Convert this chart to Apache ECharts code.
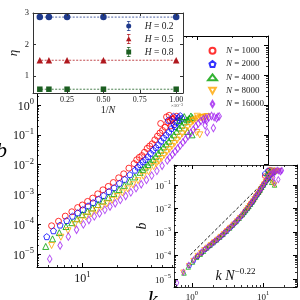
<!DOCTYPE html>
<html><head><meta charset="utf-8">
<script src="https://cdn.jsdelivr.net/npm/echarts@6/dist/echarts.min.js"></script>
<style>html,body{margin:0;padding:0;background:#fff}#c{width:300px;height:300px}</style>
</head><body><div id="c"></div><script>
// ---- data ----
const sizesN = [1000, 2000, 4000, 8000, 16000];
const scaleExp = 0.22;            // collapse exponent in the inset label  k N^-0.22
const k1000 = [5.4, 6.2, 7.1, 8.1, 9.1, 10, 11.1, 12.3, 13.6, 15.1, 16.8, 18.6, 20.7, 22.9, 25.4, 28.2, 31.3, 34.7, 38.5, 42.7, 47.3, 52.5, 58.2, 63.1, 48, 54, 57, 61, 66, 59,
  29.7, 33, 36.6, 40.5, 45, 49.8, 55.3, 60.5];
const b1000 = [8.8e-5, 1.25e-4, 1.86e-4, 2.6e-4, 3.6e-4, 4.4e-4, 5.8e-4, 7.5e-4, 1.04e-3, 1.42e-3, 1.85e-3, 2.5e-3, 3.6e-3, 4.9e-3, 7.6e-3, 1.08e-2, 1.75e-2, 2.6e-2, 4.2e-2, 6.8e-2, 0.115, 0.18, 0.3, 0.37, 0.24, 0.4, 0.45, 0.34, 0.42, 0.2,
  1.45e-2, 2.0e-2, 3.5e-2, 5.0e-2, 9.0e-2, 0.14, 0.26, 0.33];
const k2000 = [4.9, 5.6, 6.4, 7.3, 8.2, 9.1, 10.1, 11.2, 12.4, 13.8, 15.3, 17, 18.9, 21, 23.3, 25.9, 28.7, 31.9, 35.4, 39.3, 43.6, 48.4, 53.7, 59.6, 66.2, 73.5, 56, 62, 69, 71, 64,
  30.3, 33.6, 37.3, 41.4, 45.9, 51, 56.6, 62.8, 69.8];
const b2000 = [3.8e-5, 6.0e-5, 9.3e-5, 1.32e-4, 1.85e-4, 2.4e-4, 3.1e-4, 4.1e-4, 5.3e-4, 6.9e-4, 9.2e-4, 1.25e-3, 1.68e-3, 2.35e-3, 3.2e-3, 4.6e-3, 6.5e-3, 1.0e-2, 1.5e-2, 2.4e-2, 3.8e-2, 6.2e-2, 0.1, 0.165, 0.27, 0.36, 0.31, 0.42, 0.38, 0.44, 0.19,
  8.3e-3, 1.25e-2, 1.85e-2, 3.1e-2, 4.7e-2, 8.0e-2, 0.125, 0.22, 0.32];
const k4000 = [4.8, 5.5, 6.3, 7.2, 8.1, 9.0, 10, 11.1, 12.3, 13.7, 15.2, 16.9, 18.8, 20.9, 23.2, 25.8, 28.6, 31.8, 35.3, 39.2, 43.5, 48.3, 53.6, 59.5, 66.1, 73.4, 81.5, 90.5, 70, 77, 85, 88, 82, 90,
  33.5, 37.2, 41.3, 45.8, 50.9, 56.5, 62.7, 69.7, 77.3, 85.9];
const b4000 = [1.78e-5, 3.2e-5, 5.2e-5, 8.3e-5, 1.12e-4, 1.51e-4, 2.09e-4, 2.69e-4, 3.5e-4, 4.57e-4, 6.0e-4, 7.9e-4, 1.07e-3, 1.46e-3, 2.0e-3, 2.78e-3, 3.85e-3, 5.5e-3, 8.2e-3, 1.21e-2, 1.9e-2, 3.05e-2, 4.9e-2, 8.0e-2, 0.13, 0.21, 0.32, 0.38, 0.3, 0.41, 0.36, 0.43, 0.13, 0.1,
  6.9e-3, 1.0e-2, 1.5e-2, 2.4e-2, 3.9e-2, 6.1e-2, 0.1, 0.17, 0.27, 0.35];
const k8000 = [5.4, 6.5, 7.5, 8.6, 9.6, 10.7, 11.9, 13.2, 14.7, 16.3, 18.1, 20.1, 22.3, 24.8, 27.5, 30.5, 33.9, 37.6, 41.7, 46.3, 51.4, 57.1, 63.3, 70.3, 78.0, 86.6, 96.1, 106.7, 118, 92, 100, 110, 122, 99, 105,
  43.9, 48.8, 54.2, 60.1, 66.7, 74, 82.2, 91.2, 101, 112];
const b8000 = [1.91e-5, 3.63e-5, 6.0e-5, 9.8e-5, 1.29e-4, 1.74e-4, 2.19e-4, 2.85e-4, 3.72e-4, 4.79e-4, 6.3e-4, 8.4e-4, 1.12e-3, 1.53e-3, 2.09e-3, 2.88e-3, 4.05e-3, 5.75e-3, 8.55e-3, 1.29e-2, 2.04e-2, 3.24e-2, 5.16e-2, 8.4e-2, 0.138, 0.225, 0.324, 0.38, 0.4, 0.3, 0.42, 0.36, 0.41, 0.12, 0.1,
  1.05e-2, 1.6e-2, 2.6e-2, 4.1e-2, 6.6e-2, 0.108, 0.178, 0.28, 0.36, 0.39];
const k16000 = [5.2, 6.4, 7.55, 8.9, 10.2, 11.4, 12.7, 14.1, 15.7, 17.4, 19.3, 21.4, 23.8, 26.4, 29.3, 32.5, 36.1, 40.1, 44.5, 49.4, 54.8, 60.8, 67.5, 74.9, 83.1, 92.2, 102, 113, 126, 140, 155, 120, 133, 147, 151, 117, 122, 138,
  57.7, 64.1, 71.1, 78.9, 87.5, 97, 107.4, 119];
const b16000 = [6.8e-6, 1.91e-5, 3.8e-5, 6.46e-5, 9.8e-5, 1.38e-4, 1.82e-4, 2.29e-4, 3.02e-4, 3.89e-4, 5.0e-4, 6.5e-4, 8.8e-4, 1.17e-3, 1.61e-3, 2.19e-3, 3.06e-3, 4.27e-3, 6.17e-3, 9.1e-3, 1.38e-2, 2.19e-2, 3.47e-2, 5.56e-2, 9.1e-2, 0.149, 0.238, 0.333, 0.389, 0.398, 0.417, 0.3, 0.43, 0.36, 0.4, 0.21, 0.123, 0.17,
  1.75e-2, 2.75e-2, 4.4e-2, 7.1e-2, 0.115, 0.19, 0.29, 0.36];
// top inset: eta vs 1/N (x in units of 1e-3)
const invNScale = 1e3;
const eta02 = [2.87, 2.87, 2.87, 2.87, 2.87];
const eta05 = [1.50, 1.50, 1.50, 1.50, 1.50];
const eta08 = [0.58, 0.58, 0.58, 0.58, 0.58];
const etaLabels = ['H = 0.2', 'H = 0.5', 'H = 0.8'];
const invNTicks = [0.25, 0.5, 0.75, 1.0];
const etaTicks = [1, 2, 3];
// dashed guide line (slope 3) in the collapse inset
const guideX = [0.95, 10];
const guideY = [1.05e-4, 0.123];

const kArr = [k1000, k2000, k4000, k8000, k16000];
const bArr = [b1000, b2000, b4000, b8000, b16000];
const nColors = ['#ff0000', '#0000ff', '#00a000', '#ffa500', '#a020f0'];
const nSymbols = ['circle', 'path://M5,0 L10,3.8 L8.1,10 L1.9,10 L0,3.8 Z', 'triangle', 'path://M0,0 L10,0 L5,9 Z', 'path://M3,0 L6,5 L3,10 L0,5 Z'];
const nSizes = [6, 6, 6, 6, [4.5, 7.5]];
const nSizesIn = [4.5, 4.5, 4.5, 4.5, [3.5, 6]];
const hColors = ['#1f3a8c', '#b0181e', '#1b5e20'];
const hSymbols = ['circle', 'triangle', 'rect'];

const SERIF = 'Liberation Serif';
function logFmt(allowed) {
  return function (v) {
    const l = Math.log10(v), e = Math.round(l);
    if (Math.abs(l - e) > 1e-6 || allowed.indexOf(e) < 0) return '';
    return '{b|10}{s|' + (e < 0 ? '\u2212' + (-e) : e) + '}';
  };
}
function richLbl(big, small) {
  return {
    b: {fontSize: big, fontFamily: SERIF, color: '#111', lineHeight: big + 3, verticalAlign: 'bottom'},
    s: {fontSize: small, fontFamily: SERIF, color: '#111', lineHeight: small, verticalAlign: 'top'}
  };
}
const lineBlack = {show: true, lineStyle: {color: '#000', width: 1}};
const lineDark = {show: true, lineStyle: {color: '#333', width: 1}};

function logAxis(grid, pos, min, max, labels, z, big, small, extra) {
  return Object.assign({
    type: 'log', logBase: 10, gridIndex: grid, position: pos, min: min, max: max, z: z,
    axisLine: lineBlack,
    axisTick: {show: true, inside: true, length: 4, lineStyle: {color: '#000', width: 1}},
    minorTick: {show: true, splitNumber: 9, length: 2, lineStyle: {color: '#000', width: 0.8}},
    splitLine: {show: false}, minorSplitLine: {show: false},
    axisLabel: labels ? {show: true, formatter: logFmt(labels), margin: 3, rich: richLbl(big, small)} : {show: false}
  }, extra || {});
}

const option = {
  animation: false,
  backgroundColor: '#fff',
  grid: [
    {left: 37, top: 36, width: 231, height: 231, z: 0, containLabel: false, outerBoundsMode: 'none'},
    {left: 33, top: 13, width: 150, height: 80, z: 10, show: true, backgroundColor: '#fff', borderWidth: 0, containLabel: false, outerBoundsMode: 'none'},
    {left: 174, top: 165, width: 123, height: 122, z: 10, show: true, backgroundColor: '#fff', borderWidth: 0, containLabel: false, outerBoundsMode: 'none'}
  ],
  xAxis: [
    logAxis(0, 'bottom', 4.03, 412, [1], 1, 12, 8.5, {
      name: 'k', nameLocation: 'middle', nameGap: 5,
      nameTextStyle: {fontFamily: SERIF, fontStyle: 'italic', fontSize: 23, color: '#000'}}),
    logAxis(0, 'top', 4.03, 412, null, 1, 12, 8.5),
    {type: 'value', gridIndex: 1, position: 'bottom', min: 0.015625, max: 1.046875, z: 12,
      axisLine: lineDark,
      axisTick: {show: true, inside: true, length: 3, customValues: invNTicks, lineStyle: {color: '#333'}},
      axisLabel: {show: true, customValues: invNTicks, margin: 3, formatter: v => v.toFixed(2), fontFamily: SERIF, fontSize: 8, color: '#222'},
      splitLine: {show: false},
      name: '1/{i|N}', nameLocation: 'middle', nameGap: 10,
      nameTextStyle: {fontFamily: SERIF, fontSize: 10, color: '#222', rich: {i: {fontFamily: SERIF, fontStyle: 'italic', fontSize: 10, color: '#222'}}}},
    {type: 'value', gridIndex: 1, position: 'top', min: 0.015625, max: 1.046875, z: 12,
      axisLine: lineDark,
      axisTick: {show: true, inside: true, length: 3, customValues: invNTicks, lineStyle: {color: '#333'}},
      axisLabel: {show: false}, splitLine: {show: false}},
    logAxis(2, 'bottom', 0.56, 30, [0, 1], 12, 9, 6.5, {axisLine: lineDark,
      name: '{i|k N}{s|\u22120.22}', nameLocation: 'middle', nameGap: -20,
      nameTextStyle: {fontFamily: SERIF, fontSize: 13, color: '#111', rich: {
        i: {fontFamily: SERIF, fontStyle: 'italic', fontSize: 14, color: '#111', lineHeight: 16, verticalAlign: 'bottom'},
        s: {fontFamily: SERIF, fontSize: 9, color: '#111', lineHeight: 9, verticalAlign: 'top'}}}}),
    logAxis(2, 'top', 0.56, 30, null, 12, 9, 6.5, {axisLine: lineDark})
  ],
  yAxis: [
    logAxis(0, 'left', 3.63e-6, 209, [-5, -4, -3, -2, -1, 0], 1, 12, 8.5, {
      name: 'b', nameLocation: 'middle', nameGap: 26, nameRotate: 0,
      nameTextStyle: {fontFamily: SERIF, fontStyle: 'italic', fontSize: 22, color: '#000'}}),
    logAxis(0, 'right', 3.63e-6, 209, null, 1, 12, 8.5),
    {type: 'value', gridIndex: 1, position: 'left', min: 0.46, max: 3.0, z: 12,
      axisLine: lineDark,
      axisTick: {show: true, inside: true, length: 3, customValues: etaTicks, lineStyle: {color: '#333'}},
      axisLabel: {show: true, customValues: etaTicks, margin: 4, fontFamily: SERIF, fontSize: 8.5, color: '#222'},
      splitLine: {show: false},
      name: '\u03b7', nameLocation: 'middle', nameGap: 13, nameRotate: 90,
      nameTextStyle: {fontFamily: SERIF, fontStyle: 'italic', fontSize: 13, color: '#222'}},
    {type: 'value', gridIndex: 1, position: 'right', min: 0.46, max: 3.0, z: 12,
      axisLine: lineDark,
      axisTick: {show: true, inside: true, length: 3, customValues: etaTicks, lineStyle: {color: '#333'}},
      axisLabel: {show: false}, splitLine: {show: false}},
    logAxis(2, 'left', 4.5e-6, 0.71, [-5, -4, -3, -2, -1], 12, 9, 6.5, {axisLine: lineDark,
      name: 'b', nameLocation: 'middle', nameGap: 25, nameRotate: 90,
      nameTextStyle: {fontFamily: SERIF, fontStyle: 'italic', fontSize: 14, color: '#111'}}),
    logAxis(2, 'right', 4.5e-6, 0.71, null, 12, 9, 6.5, {axisLine: lineDark})
  ],
  legend: [
    {left: 202, top: 40, orient: 'vertical', itemWidth: 9, itemHeight: 6, itemGap: 1.8, z: 20,
      data: sizesN.map(n => 'N = ' + n),
      formatter: name => '{i|N} = ' + name.slice(4),
      textStyle: {fontFamily: SERIF, fontSize: 9, color: '#222', lineHeight: 11.5, padding: [0, 0, 0, 4],
        rich: {i: {fontFamily: SERIF, fontStyle: 'italic', fontSize: 9, color: '#222'}}}},
    {left: 121, top: 16, orient: 'vertical', itemWidth: 14, itemHeight: 10, itemGap: 3, z: 20,
      data: [
        {name: etaLabels[0], icon: 'path://M5.5,0h1v14h-1z M3.5,0h5v1h-5z M3.5,13h5v1h-5z M2.5,7a3.5,3.5 0 1,1 7,0a3.5,3.5 0 1,1 -7,0z'},
        {name: etaLabels[1], icon: 'path://M5.5,0h1v14h-1z M3.5,0h5v1h-5z M3.5,13h5v1h-5z M6,3.3 L9.8,10.2 L2.2,10.2 Z'},
        {name: etaLabels[2], icon: 'path://M5.5,0h1v14h-1z M3.5,0h5v1h-5z M3.5,13h5v1h-5z M2.6,3.6h6.8v6.8h-6.8z'}],
      formatter: name => '{i|H} = ' + name.slice(4),
      textStyle: {fontFamily: SERIF, fontSize: 9.5, color: '#222', padding: [0, 0, 0, 4],
        rich: {i: {fontFamily: SERIF, fontStyle: 'italic', fontSize: 9.5, color: '#222'}}}}
  ],
  graphic: [
    {type: 'text', left: 171, top: 103, z: 30,
      style: {text: '\u00d710{s|\u22123}', fontFamily: SERIF, fontSize: 5, fill: '#444',
        rich: {s: {fontSize: 4, fontFamily: SERIF, fill: '#444', verticalAlign: 'top', lineHeight: 4}}}}
  ],
  series: []
};

// main panel
sizesN.forEach((n, i) => {
  option.series.push({
    type: 'scatter', name: 'N = ' + n, xAxisIndex: 0, yAxisIndex: 0, z: 2,
    symbol: nSymbols[i], symbolSize: nSizes[i],
    itemStyle: {color: 'rgba(0,0,0,0)', borderColor: nColors[i], borderWidth: 1},
    emphasis: {disabled: true},
    data: kArr[i].map((k, j) => [k, bArr[i][j]])
  });
});
// collapse inset
sizesN.forEach((n, i) => {
  const f = Math.pow(n, -scaleExp);
  option.series.push({
    type: 'scatter', name: 'collapse ' + n, xAxisIndex: 4, yAxisIndex: 4, z: 11,
    symbol: nSymbols[i], symbolSize: nSizesIn[i],
    itemStyle: {color: 'rgba(0,0,0,0)', borderColor: nColors[i], borderWidth: 0.9},
    emphasis: {disabled: true},
    data: kArr[i].map((k, j) => [k * f, bArr[i][j]])
  });
});
option.series.push({
  type: 'line', name: 'guide', xAxisIndex: 4, yAxisIndex: 4, z: 11, symbol: 'none',
  lineStyle: {color: '#000', width: 0.9, type: [3, 2]},
  data: guideX.map((x, i) => [x, guideY[i]])
});
// eta inset
[eta02, eta05, eta08].forEach((arr, i) => {
  option.series.push({
    type: 'line', name: etaLabels[i], xAxisIndex: 2, yAxisIndex: 2, z: 11,
    symbol: hSymbols[i], symbolSize: i === 2 ? 5.5 : 6.5, showSymbol: true,
    itemStyle: {color: hColors[i]},
    lineStyle: {color: hColors[i], width: 0.8, type: [2, 1.5]},
    emphasis: {disabled: true},
    data: sizesN.map((n, j) => [invNScale / n, arr[j]])
  });
});

const chart = echarts.init(document.getElementById('c'), null, {renderer: 'canvas'});
chart.setOption(option);
</script></body></html>
